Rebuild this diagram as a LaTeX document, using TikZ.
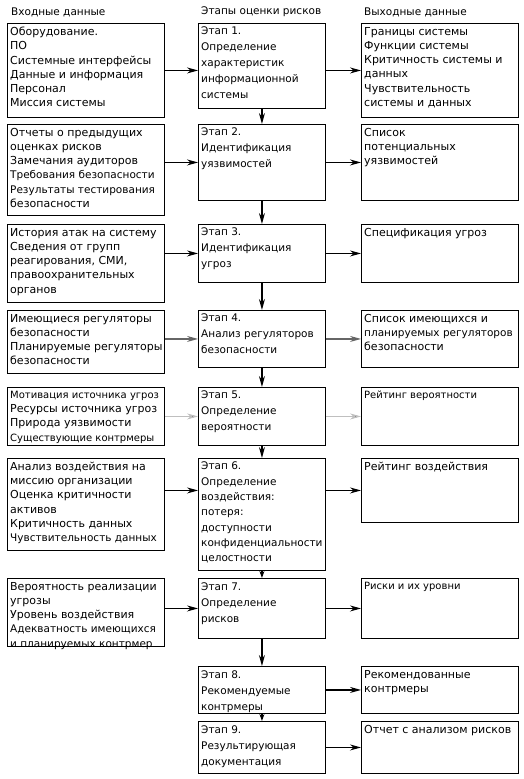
\documentclass[tikz,border=0pt]{standalone}
\usepackage{fontspec}
\setmainfont{DejaVu Sans}
\usetikzlibrary{arrows.meta,calc}
\newcommand\mkbox[5]{\node[box, minimum width=#4, minimum height=#5] (#1) at (#2,#3) {};}
\newcommand\sm[1]{{\fontsize{10}{14}\selectfont #1}}
\newcommand\smm[1]{{\fontsize{10.5}{14}\selectfont #1}}
\begin{document}
\begin{tikzpicture}[x=1pt,y=-1pt,
  box/.style={draw=black, line width=0.9pt, inner sep=0pt, anchor=north west},
  txt/.style={anchor=north west, inner sep=0pt, align=left, font=\fontsize{11}{14.2}\selectfont},
  mtxt/.style={txt, font=\fontsize{10.5}{16}\selectfont},
  hdr/.style={anchor=west, inner sep=0pt, font=\fontsize{10.5}{13}\selectfont},
  arr/.style={line width=1.2pt, draw=black, -{Stealth[length=11pt,width=6pt]}},
  sarr/.style={line width=1.2pt, draw=black, -{Stealth[length=7pt,width=5pt]}},
  garr/.style={line width=1.1pt, draw=black!60, -{Stealth[length=11pt,width=6pt,fill=black!75]}},
  larr/.style={line width=1.1pt, draw=black!25, -{Stealth[length=11pt,width=6pt,fill=black!80]}},
]
\useasboundingbox (0,0) rectangle (523,779);

% headers
\node[hdr] (h1) at (11,12) {Входные данные};
\node[hdr] (h2) at (201,12) {Этапы оценки рисков};
\node[hdr] (h3) at (364,12) {Выходные данные};

% row 1
\mkbox{l1}{7}{23}{157}{94}
\mkbox{m1}{198}{23}{127}{85}
\mkbox{r1}{361}{23}{157}{94}
% row 2
\mkbox{l2}{7}{124}{157}{91}
\mkbox{m2}{198}{124}{127}{76}
\mkbox{r2}{361}{124}{157}{76}
% row 3
\mkbox{l3}{7}{224}{157}{78}
\mkbox{m3}{198}{224}{127}{58}
\mkbox{r3}{361}{224}{157}{58}
% row 4
\mkbox{l4}{7}{310}{157}{63}
\mkbox{m4}{198}{310}{127}{57}
\mkbox{r4}{361}{310}{157}{57}
% row 5
\mkbox{l5}{7}{387}{157}{58}
\mkbox{m5}{198}{387}{127}{58}
\mkbox{r5}{361}{387}{157}{58}
% row 6
\mkbox{l6}{7}{458}{157}{92}
\mkbox{m6}{198}{458}{127}{112}
\mkbox{r6}{361}{458}{157}{64}
% row 7
\mkbox{l7}{7}{578}{157}{68}
\mkbox{m7}{198}{578}{127}{60}
\mkbox{r7}{361}{578}{157}{60}
% row 8
\mkbox{m8}{198}{666}{127}{47}
\mkbox{r8}{361}{666}{157}{47}
% row 9
\mkbox{m9}{198}{721}{127}{52}
\mkbox{r9}{361}{721}{157}{52}

% texts
\node[txt] (l1t) at ($(l1.north west)+(3,4)$) {Оборудование.\\ПО\\Системные интерфейсы\\Данные и информация\\Персонал\\Миссия системы};
\node[mtxt] (m1t) at ($(m1.north west)+(3,4)$) {Этап 1.\\Определение\\характеристик\\информационной\\системы};
\node[txt] (r1t) at ($(r1.north west)+(3,4)$) {Границы системы\\Функции системы\\Критичность системы и\\данных\\Чувствительность\\системы и данных};

\node[txt] (l2t) at ($(l2.north west)+(3,4)$) {Отчеты о предыдущих\\оценках рисков\\Замечания аудиторов\\\smm{Требования безопасности}\\\smm{Результаты тестирования}\\безопасности};
\node[mtxt] (m2t) at ($(m2.north west)+(3,4)$) {Этап 2.\\Идентификация\\уязвимостей};
\node[txt] (r2t) at ($(r2.north west)+(3,4)$) {Список\\потенциальных\\уязвимостей};

\node[txt] (l3t) at ($(l3.north west)+(3,4)$) {История атак на систему\\Сведения от групп\\реагирования, СМИ,\\правоохранительных\\органов};
\node[mtxt] (m3t) at ($(m3.north west)+(3,4)$) {Этап 3.\\Идентификация\\угроз};
\node[txt] (r3t) at ($(r3.north west)+(3,4)$) {Спецификация угроз};

\node[txt] (l4t) at ($(l4.north west)+(3,4)$) {Имеющиеся регуляторы\\безопасности\\Планируемые регуляторы\\безопасности};
\node[mtxt] (m4t) at ($(m4.north west)+(3,4)$) {Этап 4.\\Анализ регуляторов\\безопасности};
\node[txt] (r4t) at ($(r4.north west)+(3,4)$) {Список имеющихся и\\\smm{планируемых регуляторов}\\безопасности};

\node[txt] (l5t) at ($(l5.north west)+(3,4)$) {\sm{Мотивация источника угроз}\\Ресурсы источника угроз\\Природа уязвимости\\\sm{Существующие контрмеры}};
\node[mtxt] (m5t) at ($(m5.north west)+(3,4)$) {Этап 5.\\Определение\\вероятности};
\node[txt] (r5t) at ($(r5.north west)+(3,4)$) {\sm{Рейтинг вероятности}};

\node[txt] (l6t) at ($(l6.north west)+(3,4)$) {Анализ воздействия на\\миссию организации\\Оценка критичности\\активов\\Критичность данных\\\smm{Чувствительность данных}};
\node[mtxt, font=\fontsize{10.5}{15.3}\selectfont] (m6t) at ($(m6.north west)+(3,4)$) {Этап 6.\\Определение\\воздействия:\\потеря:\\доступности\\конфиденциальности\\целостности};
\node[txt] (r6t) at ($(r6.north west)+(3,4)$) {Рейтинг воздействия};

\node[txt] (l7t) at ($(l7.north west)+(3,4)$) {Вероятность реализации\\угрозы\\Уровень воздействия\\\smm{Адекватность имеющихся}\\\smm{и планируемых контрмер}};
\node[mtxt] (m7t) at ($(m7.north west)+(3,4)$) {Этап 7.\\Определение\\рисков};
\node[txt] (r7t) at ($(r7.north west)+(3,4)$) {\sm{Риски и их уровни}};

\node[mtxt] (m8t) at ($(m8.north west)+(3,4)$) {Этап 8.\\Рекомендуемые\\контрмеры};
\node[txt] (r8t) at ($(r8.north west)+(3,4)$) {Рекомендованные\\контрмеры};

\node[mtxt] (m9t) at ($(m9.north west)+(3,4)$) {Этап 9.\\Результирующая\\документация};
\node[txt] (r9t) at ($(r9.north west)+(3,4)$) {Отчет с анализом рисков};

% horizontal arrows
\foreach \i in {1,2,3,6,7}{
  \draw[arr] (l\i.east |- r\i.west) -- (m\i.west |- r\i.west);
}
\foreach \i in {1,2,3,6,7,8,9}{
  \draw[arr] (m\i.east |- r\i.west) -- (r\i.west);
}
\draw[garr] (l4.east |- r4.west) -- (m4.west |- r4.west);
\draw[garr] (m4.east |- r4.west) -- (r4.west);
\draw[larr] (l5.east |- r5.west) -- (m5.west |- r5.west);
\draw[larr] (m5.east |- r5.west) -- (r5.west);

% vertical arrows
\foreach \a/\b in {1/2,2/3,3/4,4/5,5/6,7/8}{
  \draw[arr] (m\a.south) -- (m\b.north);
}
\draw[sarr] (m6.south) -- (m7.north);
\draw[sarr] (m8.south) -- (m9.north);
\end{tikzpicture}
\end{document}
